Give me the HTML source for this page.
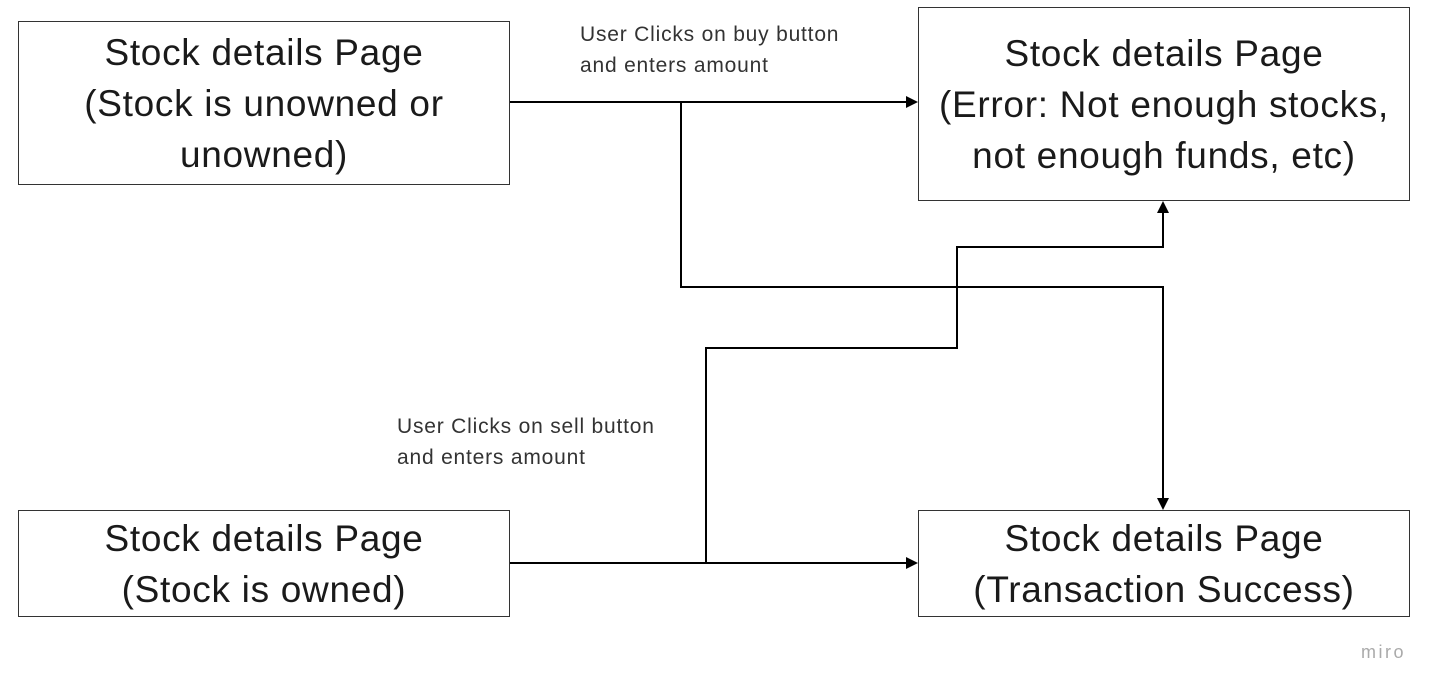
<!DOCTYPE html>
<html><head><meta charset="utf-8"><style>
html,body{margin:0;padding:0;background:#fff;}
body{width:1440px;height:694px;position:relative;overflow:hidden;font-family:"Liberation Sans",sans-serif;}
.box{position:absolute;border:1.3px solid #333;box-sizing:border-box;display:flex;align-items:center;justify-content:center;text-align:center;font-size:37px;letter-spacing:0.7px;line-height:51px;color:#1a1a1a;white-space:nowrap;}
.lbl{position:absolute;font-size:21px;letter-spacing:0.8px;line-height:31px;color:#333;white-space:nowrap;}
svg{position:absolute;left:0;top:0;}
</style></head><body>
<div class="box" style="left:18px;top:21px;width:492px;height:164px;">Stock details Page<br>(Stock is unowned or<br>unowned)</div>
<div class="box" style="left:918px;top:7px;width:492px;height:194px;">Stock details Page<br>(Error: Not enough stocks,<br>not enough funds, etc)</div>
<div class="box" style="left:18px;top:510px;width:492px;height:107px;">Stock details Page<br>(Stock is owned)</div>
<div class="box" style="left:918px;top:510px;width:492px;height:107px;">Stock details Page<br>(Transaction Success)</div>
<div class="lbl" style="left:580px;top:19px;">User Clicks on buy button<br>and enters amount</div>
<div class="lbl" style="left:397px;top:411px;">User Clicks on sell button<br>and enters amount</div>
<div style="position:absolute;left:1361px;top:642px;font-size:18px;color:#aaa;letter-spacing:2.5px;">miro</div>
<svg width="1440" height="694">
<g fill="none" stroke="#000" stroke-width="2">
<path d="M510 102 H907"/>
<path d="M681 102 V287 H1163 V499"/>
<path d="M510 563 H907"/>
<path d="M706 563 V348 H957 V247 H1163 V212"/>
</g>
<g fill="#000">
<path d="M918 102 L906 96 L906 108 Z"/>
<path d="M918 563 L906 557 L906 569 Z"/>
<path d="M1163 510 L1157 498 L1169 498 Z"/>
<path d="M1163 201 L1157 213 L1169 213 Z"/>
</g>
</svg>
</body></html>
